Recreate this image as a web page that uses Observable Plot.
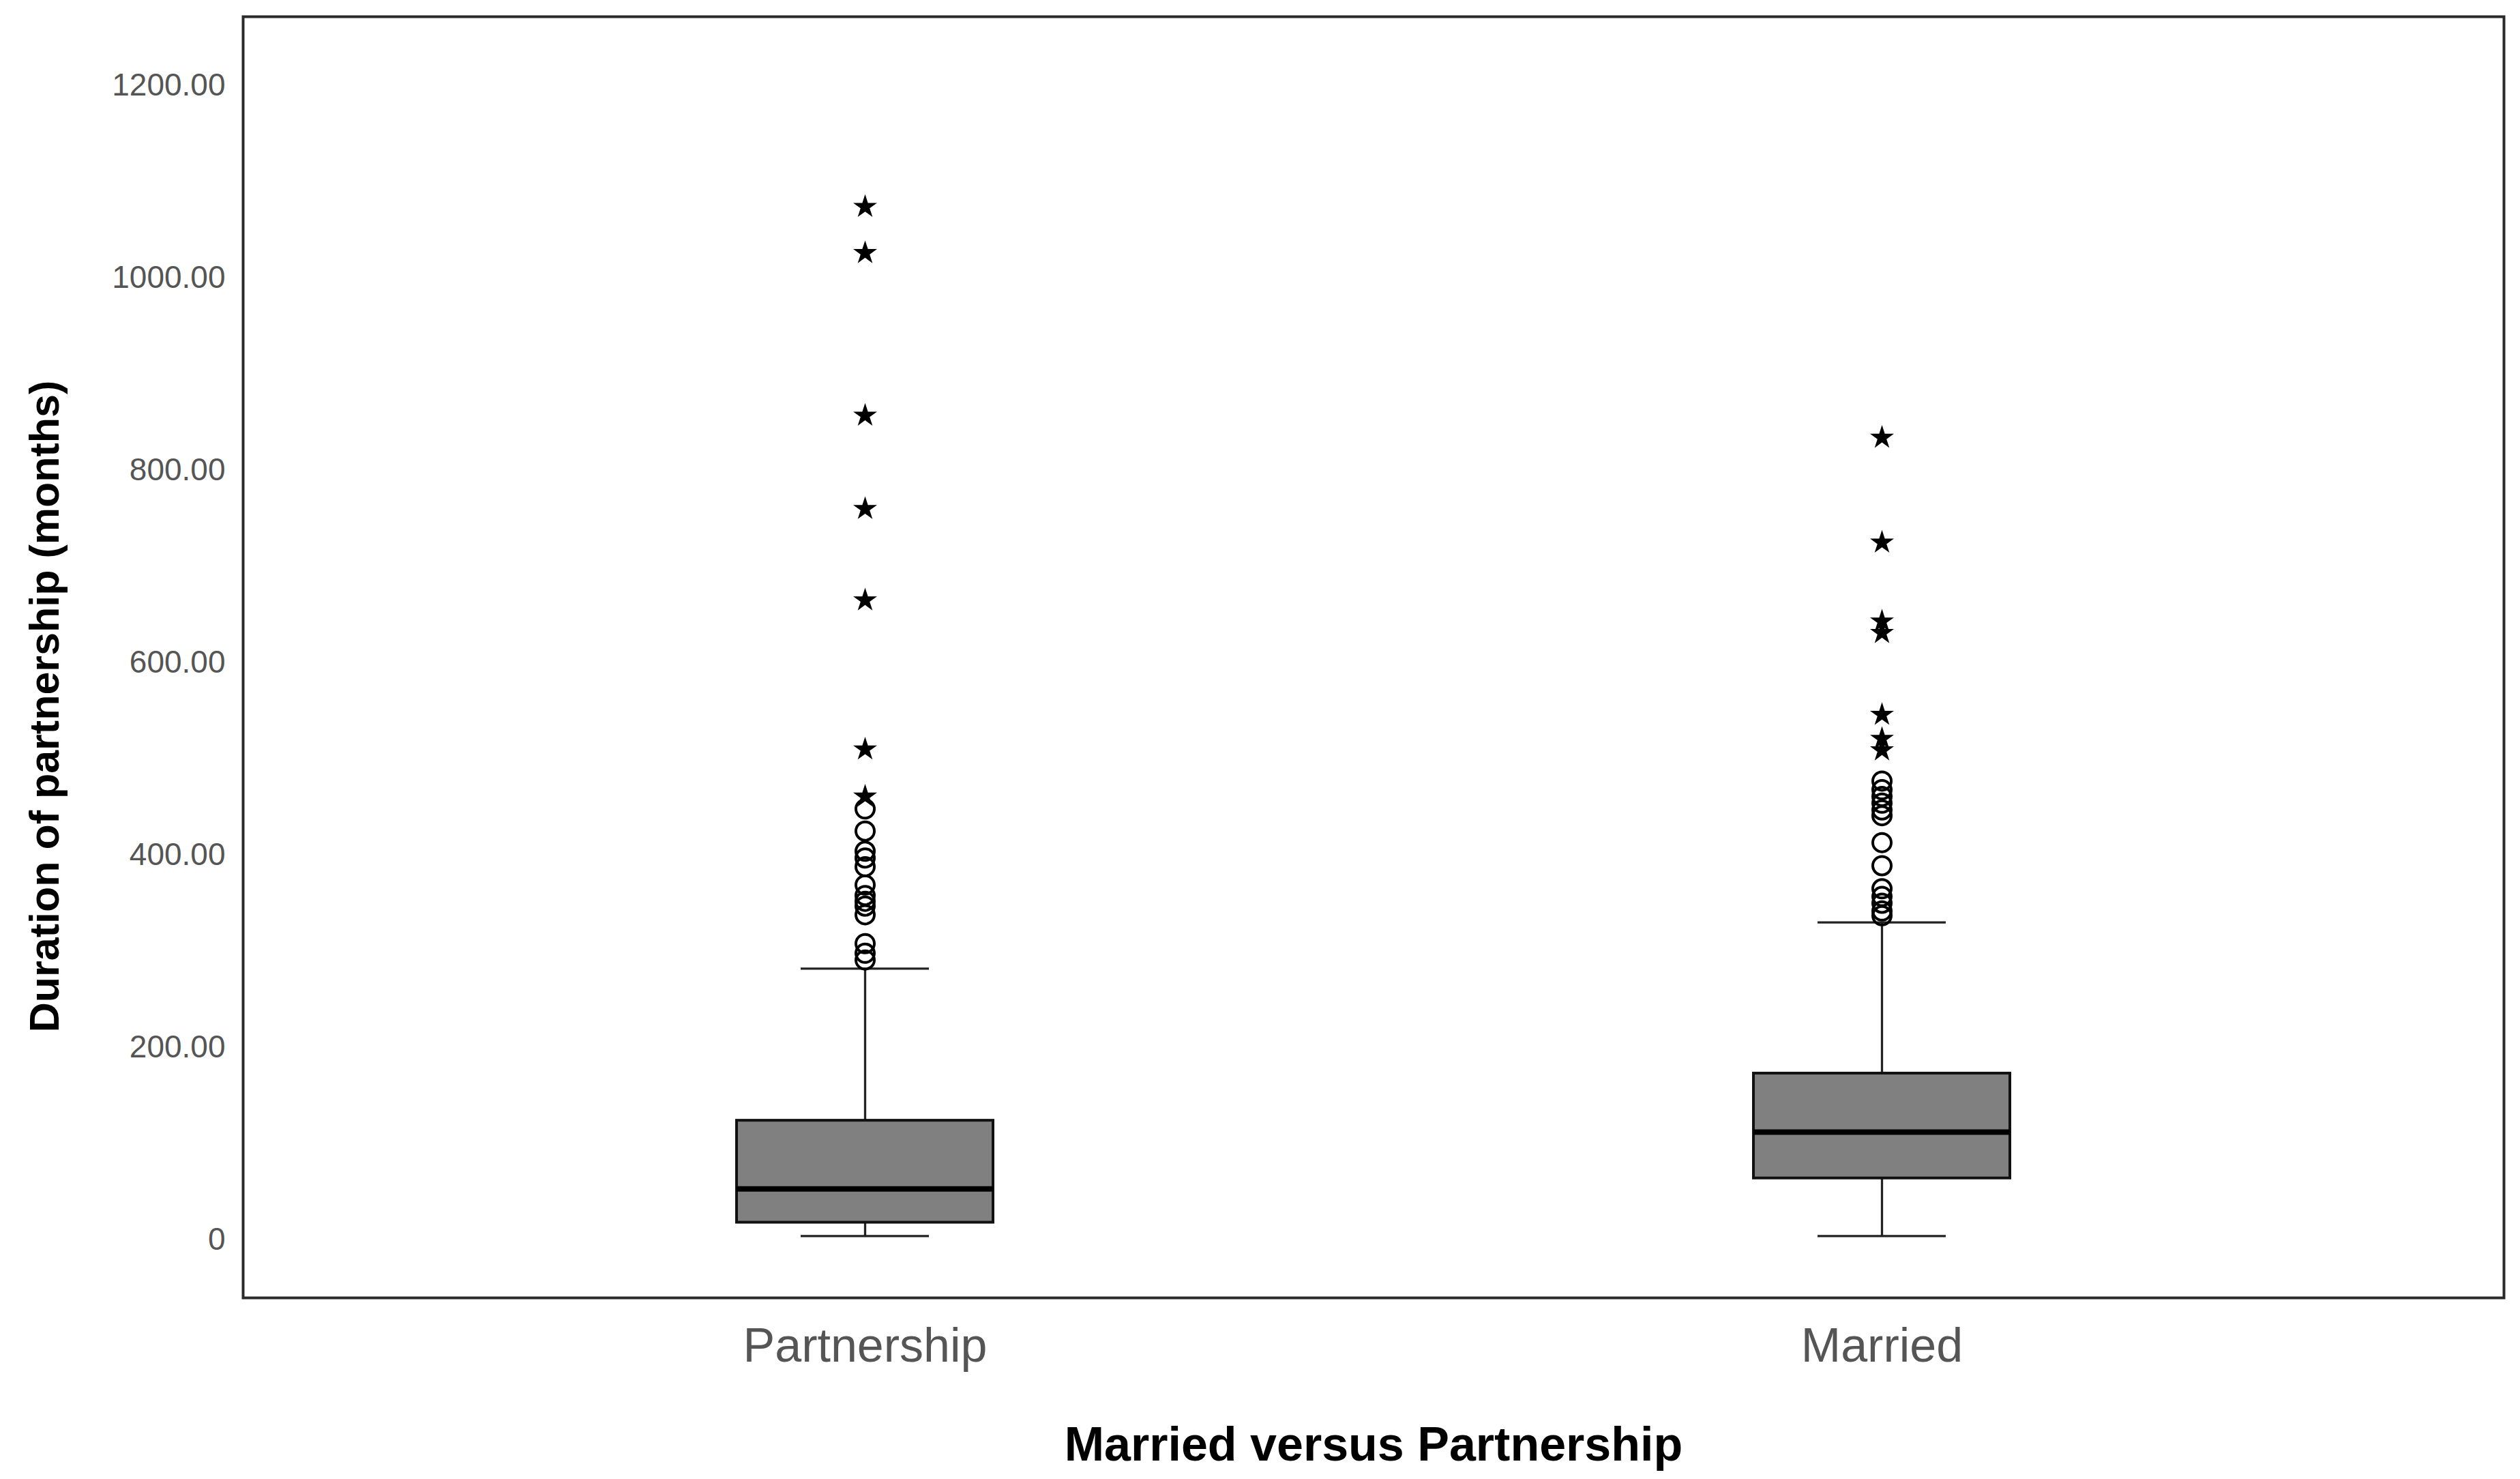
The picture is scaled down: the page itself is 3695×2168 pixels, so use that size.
<!DOCTYPE html>
<html>
<head>
<meta charset="utf-8">
<script src="https://cdn.jsdelivr.net/npm/d3@7"></script>
<script src="https://cdn.jsdelivr.net/npm/@observablehq/plot@0.6"></script>
<style>
  html, body { margin: 0; padding: 0; background: #fff; }
</style>
</head>
<body>
<div id="chart"></div>
<script>
// ---- Data ----
const categories = ["Partnership", "Married"];
const minValues    = [4, 4];
const q1Values     = [18, 64];
const medianValues = [53, 112];
const q3Values     = [124, 173];
const maxValues    = [282, 330];

const partnershipOutliers = [291, 298, 308, 338, 347, 352, 358, 369, 388, 397, 404, 425, 448];
const partnershipExtremes = [461, 510, 665, 760, 857, 1026, 1074];
const marriedOutliers = [337, 342, 350, 357, 365, 389, 413, 441, 447, 454, 461, 468, 477];
const marriedExtremes = [509, 521, 546, 631, 643, 725, 834];

const yTicks = [0, 200, 400, 600, 800, 1000, 1200];
const yTitle = "Duration of partnership (months)";
const xTitle = "Married versus Partnership";

// ---- Tables built from the arrays ----
const boxes = categories.map((g, i) => ({
  group: g, min: minValues[i], q1: q1Values[i], median: medianValues[i], q3: q3Values[i], max: maxValues[i]
}));
const outliers = [
  ...partnershipOutliers.map(v => ({group: "Partnership", value: v})),
  ...marriedOutliers.map(v => ({group: "Married", value: v}))
];
const extremes = [
  ...partnershipExtremes.map(v => ({group: "Partnership", value: v})),
  ...marriedExtremes.map(v => ({group: "Married", value: v}))
];

const capInset = 94;

const chart = Plot.plot({
  width: 3695,
  height: 2168,
  marginLeft: 356,
  marginRight: 24,
  marginTop: 24,
  marginBottom: 266,
  style: {fontFamily: "'Liberation Sans', Arial, sans-serif", background: "#fff", color: "#000"},
  x: {type: "band", domain: categories, paddingInner: 0.748, paddingOuter: 0.4856, align: 0.5},
  y: {domain: [-60.3, 1271.6]},
  marks: [
    Plot.frame({stroke: "#2a2a2a", strokeWidth: 4}),
    Plot.axisY({ticks: yTicks, tickFormat: d => d === 0 ? "0" : d.toFixed(2), tickSize: 0, tickPadding: 26,
                fontSize: 46, fill: "#555", label: null}),
    Plot.axisX({tickSize: 0, tickPadding: 44, fontSize: 70, fill: "#555", label: null}),
    // whiskers
    Plot.ruleX(boxes, {x: "group", y1: "min", y2: "q1", stroke: "#222", strokeWidth: 3.3}),
    Plot.ruleX(boxes, {x: "group", y1: "q3", y2: "max", stroke: "#222", strokeWidth: 3.3}),
    Plot.tickY(boxes, {x: "group", y: "min", insetLeft: capInset, insetRight: capInset, stroke: "#222", strokeWidth: 3.3}),
    Plot.tickY(boxes, {x: "group", y: "max", insetLeft: capInset, insetRight: capInset, stroke: "#222", strokeWidth: 3.3}),
    // boxes
    Plot.barY(boxes, {x: "group", y1: "q1", y2: "q3", fill: "#808080", stroke: "#111", strokeWidth: 4}),
    Plot.tickY(boxes, {x: "group", y: "median", stroke: "#000", strokeWidth: 8}),
    // outliers
    Plot.dot(outliers, {x: "group", y: "value", r: 13.5, stroke: "#000", strokeWidth: 4, fill: "none"}),
    Plot.dot(extremes, {x: "group", y: "value", symbol: "star", r: 11, fill: "#000", stroke: "none"}),
    // axis titles
    Plot.text([yTitle], {frameAnchor: "left", textAnchor: "middle", lineAnchor: "middle", dx: -290, dy: 72,
                         rotate: -90, fontSize: 61, fontWeight: "bold", fill: "#000"}),
    Plot.text([xTitle], {frameAnchor: "bottom", textAnchor: "middle", dy: 238, fontSize: 70, fontWeight: "bold", fill: "#000"})
  ]
});
document.getElementById("chart").append(chart);
</script>
</body>
</html>
